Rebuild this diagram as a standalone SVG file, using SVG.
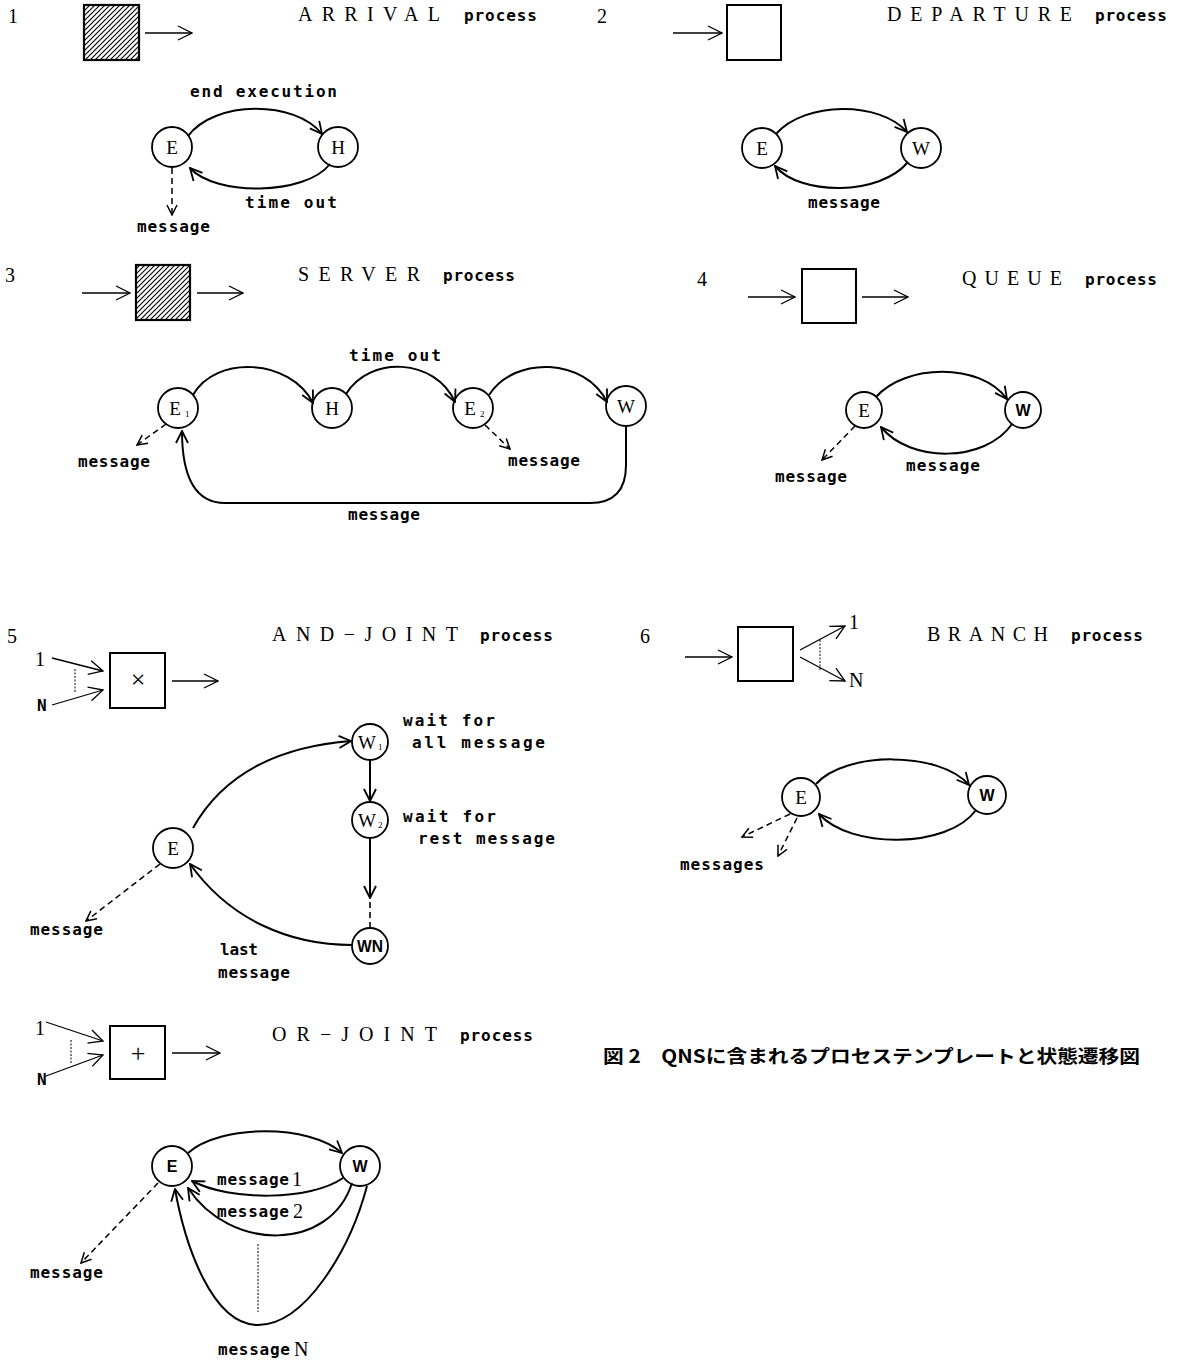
<svg xmlns="http://www.w3.org/2000/svg" width="1184" height="1360" viewBox="0 0 1184 1360">
<defs>
<pattern id="hatch" patternUnits="userSpaceOnUse" width="5" height="5">
<path d="M-1,1 L1,-1 M0,5 L5,0 M4,6 L6,4" stroke="#000" stroke-width="1.1"/>
</pattern>
<marker id="ah" viewBox="0 0 14 14" refX="13" refY="7" markerWidth="14" markerHeight="14" markerUnits="userSpaceOnUse" orient="auto">
<path d="M1,1 L13,7 L1,13" fill="none" stroke="#000" stroke-width="1.8"/>
</marker>
<marker id="ahs" viewBox="0 0 16 16" refX="15" refY="8" markerWidth="16" markerHeight="16" markerUnits="userSpaceOnUse" orient="auto">
<path d="M1,1 L15,8 L1,15" fill="none" stroke="#000" stroke-width="1.3"/>
</marker>
<marker id="ahd" viewBox="0 0 12 12" refX="11" refY="6" markerWidth="12" markerHeight="12" markerUnits="userSpaceOnUse" orient="auto">
<path d="M1,1 L11,6 L1,11" fill="none" stroke="#000" stroke-width="1.5"/>
</marker>
</defs>
<style>
.bg{fill:#fff}
.num{font-family:"Liberation Serif",serif;font-size:20px;fill:#000}
.title{font-family:"Liberation Serif",serif;font-size:20px;fill:#000}
.proc{font-family:"DejaVu Sans Mono","Liberation Mono",monospace;font-weight:bold;font-size:16px;fill:#000}
.lbl{font-family:"DejaVu Sans Mono","Liberation Mono",monospace;font-weight:bold;font-size:16px;fill:#000}
.node{fill:#fff;stroke:#000;stroke-width:1.8}
.nl{font-family:"Liberation Serif",serif;font-size:19px;fill:#000;text-anchor:middle}
.nlb{font-family:"Liberation Sans",sans-serif;font-weight:bold;font-size:16px;fill:#000;text-anchor:middle}
.sub{font-family:"Liberation Serif",serif;font-size:9px;fill:#000}
.box{fill:#fff;stroke:#000;stroke-width:2}
.hbox{fill:url(#hatch);stroke:#000;stroke-width:2.2}
.arc{fill:none;stroke:#000;stroke-width:2;marker-end:url(#ah)}
.thin{fill:none;stroke:#000;stroke-width:1.3;marker-end:url(#ahs)}
.dash{fill:none;stroke:#000;stroke-width:1.5;stroke-dasharray:6 4;marker-end:url(#ahd)}
.dot{fill:none;stroke:#000;stroke-width:1;stroke-dasharray:2 1.5}
.cap{font-family:"Noto Sans CJK JP",sans-serif;font-weight:bold;font-size:18px;fill:#000}
</style>
<rect class="bg" x="0" y="0" width="1184" height="1360"/>

<!-- Panel 1: ARRIVAL -->
<g id="p1-header">
<text class="num" x="8" y="23">1</text>
<rect class="hbox" x="84" y="5" width="55" height="55"/>
<text class="title" x="298" y="21" textLength="142" lengthAdjust="spacing">ARRIVAL</text>
<text class="proc" x="464" y="21" textLength="73" lengthAdjust="spacing">process</text>
</g>
<g id="p1-E"><circle class="node" cx="172" cy="147" r="20"/><text class="nl" x="172" y="154">E</text></g>
<g id="p1-H"><circle class="node" cx="338" cy="147" r="20"/><text class="nl" x="338" y="154">H</text></g>

<!-- Panel 2: DEPARTURE -->
<g id="p2-header">
<text class="num" x="597" y="23">2</text>
<rect class="box" x="727" y="5" width="54" height="55"/>
<text class="title" x="887" y="21" textLength="185" lengthAdjust="spacing">DEPARTURE</text>
<text class="proc" x="1095" y="21" textLength="72" lengthAdjust="spacing">process</text>
</g>
<g id="p2-E"><circle class="node" cx="762" cy="148" r="20"/><text class="nl" x="762" y="155">E</text></g>
<g id="p2-W"><circle class="node" cx="921" cy="148" r="20"/><text class="nl" x="921" y="155">W</text></g>

<!-- Panel 3: SERVER -->
<g id="p3-header">
<text class="num" x="5" y="282">3</text>
<rect class="hbox" x="136" y="265" width="54" height="55"/>
<text class="title" x="298" y="281" textLength="122" lengthAdjust="spacing">SERVER</text>
<text class="proc" x="443" y="281" textLength="72" lengthAdjust="spacing">process</text>
</g>
<g id="p3-E1"><circle class="node" cx="178" cy="408" r="20"/><text class="nl" x="175" y="415">E</text><text class="sub" x="185" y="417">1</text></g>
<g id="p3-H"><circle class="node" cx="332" cy="408" r="20"/><text class="nl" x="332" y="415">H</text></g>
<g id="p3-E2"><circle class="node" cx="473" cy="408" r="20"/><text class="nl" x="470" y="415">E</text><text class="sub" x="480" y="417">2</text></g>
<g id="p3-W"><circle class="node" cx="626" cy="406" r="20"/><text class="nl" x="626" y="413">W</text></g>

<!-- Panel 4: QUEUE -->
<g id="p4-header">
<text class="num" x="697" y="286">4</text>
<rect class="box" x="802" y="269" width="54" height="54"/>
<text class="title" x="962" y="285" textLength="100" lengthAdjust="spacing">QUEUE</text>
<text class="proc" x="1085" y="285" textLength="72" lengthAdjust="spacing">process</text>
</g>
<g id="p4-E"><circle class="node" cx="864" cy="410" r="18"/><text class="nl" x="864" y="417">E</text></g>
<g id="p4-W"><circle class="node" cx="1023" cy="410" r="18"/><text class="nlb" x="1023" y="416">W</text></g>

<!-- Panel 5: AND-JOINT -->
<g id="p5-header">
<text class="num" x="7" y="643">5</text>
<text class="num" x="35" y="666">1</text>
<text class="lbl" x="37" y="711">N</text>
<rect class="box" x="110" y="653" width="55" height="55"/>
<text class="nl" x="138" y="688" style="font-size:26px">×</text>
<text class="title" x="272" y="641" textLength="186" lengthAdjust="spacing">AND−JOINT</text>
<text class="proc" x="480" y="641" textLength="73" lengthAdjust="spacing">process</text>
</g>
<g id="p5-E"><circle class="node" cx="173" cy="848" r="20"/><text class="nl" x="173" y="855">E</text></g>
<g id="p5-W1"><circle class="node" cx="370" cy="742" r="18"/><text class="nl" x="367" y="749">W</text><text class="sub" x="378" y="750">1</text></g>
<g id="p5-W2"><circle class="node" cx="370" cy="820" r="18"/><text class="nl" x="367" y="827">W</text><text class="sub" x="378" y="828">2</text></g>
<g id="p5-WN"><circle class="node" cx="370" cy="946" r="18"/><text class="nlb" x="370" y="952" textLength="26" lengthAdjust="spacingAndGlyphs">WN</text></g>
<g id="p5-notes">
<text class="lbl" x="403" y="726" textLength="92" lengthAdjust="spacing">wait  for</text>
<text class="lbl" x="412" y="748" textLength="133" lengthAdjust="spacing">all  message</text>
<text class="lbl" x="403" y="822" textLength="93" lengthAdjust="spacing">wait  for</text>
<text class="lbl" x="418" y="844" textLength="137" lengthAdjust="spacing">rest  message</text>
</g>

<!-- Panel 6: BRANCH -->
<g id="p6-header">
<text class="num" x="640" y="643">6</text>
<rect class="box" x="738" y="627" width="55" height="54"/>
<text class="num" x="849" y="629">1</text>
<text class="num" x="849" y="687">N</text>
<text class="title" x="927" y="641" textLength="121" lengthAdjust="spacing">BRANCH</text>
<text class="proc" x="1071" y="641" textLength="72" lengthAdjust="spacing">process</text>
</g>
<g id="p6-E"><circle class="node" cx="801" cy="797" r="19"/><text class="nl" x="801" y="804">E</text></g>
<g id="p6-W"><circle class="node" cx="987" cy="795" r="19"/><text class="nlb" x="987" y="801">W</text></g>

<!-- OR-JOINT -->
<g id="or-header">
<text class="num" x="35" y="1035">1</text>
<text class="lbl" x="37" y="1085">N</text>
<rect class="box" x="110" y="1026" width="55" height="53"/>
<text class="nl" x="138" y="1062" style="font-size:26px">+</text>
<text class="title" x="272" y="1041" textLength="165" lengthAdjust="spacing">OR−JOINT</text>
<text class="proc" x="460" y="1041" textLength="73" lengthAdjust="spacing">process</text>
</g>
<g id="or-E"><circle class="node" cx="172" cy="1166" r="20"/><text class="nlb" x="172" y="1172">E</text></g>
<g id="or-W"><circle class="node" cx="360" cy="1166" r="20"/><text class="nlb" x="360" y="1172">W</text></g>

<!-- Caption -->
<g id="caption">
<text class="cap" x="603" y="1063" textLength="537" lengthAdjust="spacingAndGlyphs">図 2　QNSに含まれるプロセステンプレートと状態遷移図</text>
</g>

<!-- Connectors -->
<g id="connectors">
<!-- panel 1 -->
<path class="thin" d="M145,33 L192,33"/>
<path class="arc" d="M188,136 C215,100 295,100 322,134"/>
<path class="arc" d="M330,164 C305,196 215,196 190,168"/>
<path class="dash" d="M172,168 L172,215"/>
<!-- panel 2 -->
<path class="thin" d="M673,33 L722,33"/>
<path class="arc" d="M776,134 C805,101 880,101 907,132"/>
<path class="arc" d="M908,162 C880,196 800,196 775,166"/>
<!-- panel 3 -->
<path class="thin" d="M82,293 L130,293"/>
<path class="thin" d="M197,293 L243,293"/>
<path class="arc" d="M193,395 C215,355 290,358 313,403"/>
<path class="arc" d="M346,394 C370,355 435,358 455,402"/>
<path class="arc" d="M489,395 C515,355 585,358 607,402"/>
<path class="arc" d="M626,427 L626,465 Q626,503 590,503 L225,503 Q182,503 182,431"/>
<path class="dash" d="M166,424 L137,445"/>
<path class="dash" d="M485,425 L510,449"/>
<!-- panel 4 -->
<path class="thin" d="M748,297 L795,297"/>
<path class="thin" d="M862,297 L908,297"/>
<path class="arc" d="M876,397 C905,364 980,362 1007,399"/>
<path class="arc" d="M1012,424 C985,463 910,463 881,427"/>
<path class="dash" d="M855,426 L822,460"/>
<!-- panel 5 -->
<path class="thin" d="M52,658 L103,671"/>
<path class="thin" d="M52,705 L103,690"/>
<path class="dot" d="M75,669 L75,692"/>
<path class="thin" d="M172,681 L218,681"/>
<path class="arc" d="M193,828 C230,762 300,745 351,741"/>
<path class="arc" d="M370,760 L370,801"/>
<path class="arc" d="M370,838 L370,898"/>
<path fill="none" stroke="#000" stroke-width="1.6" stroke-dasharray="6 4" d="M370,902 L370,928"/>
<path class="arc" d="M352,945 C290,945 230,920 190,864"/>
<path class="dash" d="M160,864 L86,921"/>
<!-- panel 6 -->
<path class="thin" d="M685,657 L732,657"/>
<path class="thin" d="M800,650 L845,626"/>
<path class="thin" d="M800,657 L845,681"/>
<path class="dot" d="M820,640 L820,670"/>
<path class="arc" d="M816,784 C845,751 940,751 969,785"/>
<path class="arc" d="M976,810 C948,849 850,849 819,814"/>
<path class="dash" d="M790,814 L742,837"/>
<path class="dash" d="M797,818 L778,856"/>
<!-- OR-JOINT -->
<path class="thin" d="M46,1022 L103,1041"/>
<path class="thin" d="M46,1076 L103,1055"/>
<path class="dot" d="M71,1040 L71,1063"/>
<path class="thin" d="M172,1053 L220,1053"/>
<path class="arc" d="M188,1153 C220,1124 310,1124 342,1153"/>
<path class="arc" d="M343,1178 C310,1201 230,1201 192,1181"/>
<path class="arc" d="M352,1183 C330,1252 230,1252 188,1188"/>
<path class="arc" d="M367,1186 C350,1250 305,1325 258,1325 C212,1325 185,1245 175,1189"/>
<path class="dot" d="M258,1244 L258,1312"/>
<path class="dash" d="M158,1183 L81,1263"/>
</g>

<!-- Connector labels -->
<g id="labels">
<text class="lbl" x="190" y="97" textLength="147" lengthAdjust="spacing">end  execution</text>
<text class="lbl" x="245" y="208" textLength="92" lengthAdjust="spacing">time   out</text>
<text class="lbl" x="137" y="232" textLength="73" lengthAdjust="spacing">message</text>
<text class="lbl" x="808" y="208" textLength="72" lengthAdjust="spacing">message</text>
<text class="lbl" x="349" y="361" textLength="92" lengthAdjust="spacing">time   out</text>
<text class="lbl" x="78" y="467" textLength="72" lengthAdjust="spacing">message</text>
<text class="lbl" x="508" y="466" textLength="72" lengthAdjust="spacing">message</text>
<text class="lbl" x="348" y="520" textLength="72" lengthAdjust="spacing">message</text>
<text class="lbl" x="906" y="471" textLength="74" lengthAdjust="spacing">message</text>
<text class="lbl" x="775" y="482" textLength="72" lengthAdjust="spacing">message</text>
<text class="lbl" x="30" y="935" textLength="73" lengthAdjust="spacing">message</text>
<text class="lbl" x="220" y="955" textLength="38" lengthAdjust="spacing">last</text>
<text class="lbl" x="218" y="978" textLength="72" lengthAdjust="spacing">message</text>
<text class="lbl" x="680" y="870" textLength="84" lengthAdjust="spacing">messages</text>
<text class="lbl" x="217" y="1185" textLength="72" lengthAdjust="spacing">message</text>
<text class="num" x="292" y="1186">1</text>
<text class="lbl" x="217" y="1217" textLength="72" lengthAdjust="spacing">message</text>
<text class="num" x="293" y="1218">2</text>
<text class="lbl" x="30" y="1278" textLength="73" lengthAdjust="spacing">message</text>
<text class="lbl" x="218" y="1355" textLength="72" lengthAdjust="spacing">message</text>
<text class="num" x="294" y="1356">N</text>
</g>
</svg>
